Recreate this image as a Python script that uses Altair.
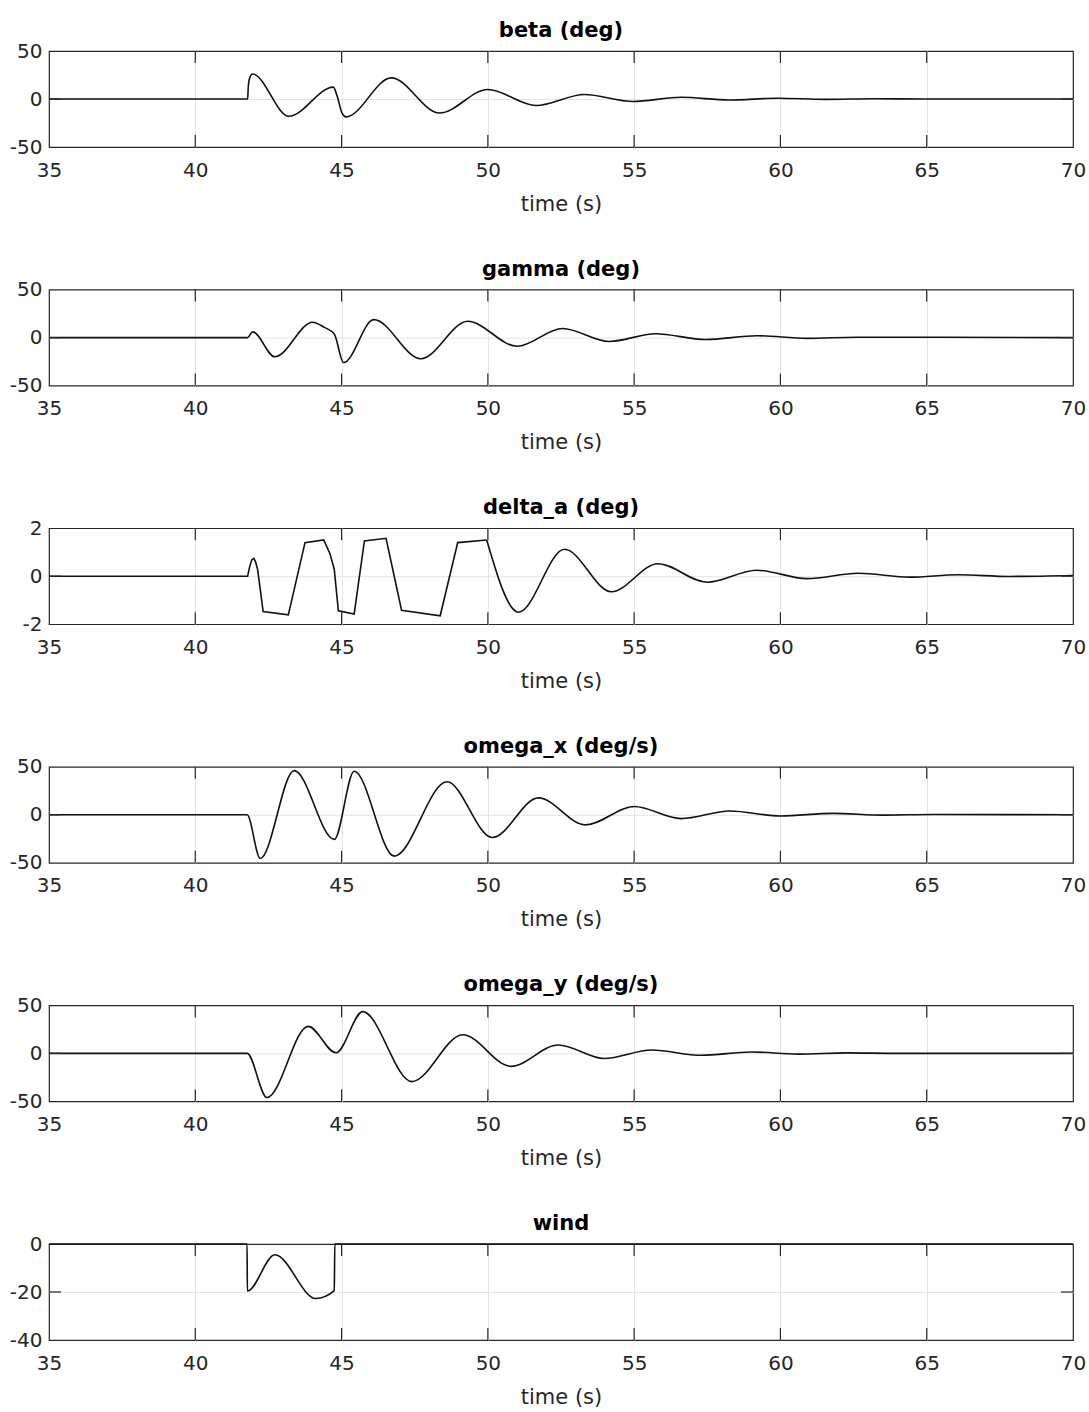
import altair as alt
import pandas as pd

# ---- data ----
T_BETA = [35, 41.79, 41.81, 41.86, 41.96, 43.2, 44.72, 44.85, 45.02, 45.15, 46.7, 48.35, 50.0, 51.65, 53.3, 54.95, 56.6, 58.25, 59.9, 61.55, 63.2, 64.9, 70]
V_BETA = [0, 0, 12, 22, 26, -18, 12.4, 3, -15, -18.6, 22, -14.6, 9.9, -6.8, 4.7, -2.6, 1.8, -1.0, 0.8, -0.4, 0.3, 0, 0]

T_GAMMA = [35, 41.79, 41.96, 42.72, 44.01, 44.41, 44.75, 45.07, 46.10, 47.71, 49.31, 51.0, 52.55, 54.15, 55.72, 57.45, 59.2, 60.9, 62.6, 70]
V_GAMMA = [0, 0, 6, -20, 16, 10.7, 3.7, -26, 18.7, -22, 17, -9, 9.5, -4, 4, -2, 2, -0.8, 0.4, 0]

T_DA_LIN = [35, 41.79, 41.86, 41.93, 42.0, 42.06, 42.13, 42.32, 43.18, 43.75, 44.39, 44.6, 44.75, 44.89, 45.43, 45.78, 46.52, 47.05, 48.37, 48.97, 49.96]
V_DA_LIN = [0, 0, 0.4, 0.68, 0.74, 0.6, 0.28, -1.47, -1.61, 1.40, 1.51, 0.95, 0.29, -1.44, -1.58, 1.47, 1.58, -1.42, -1.65, 1.40, 1.51]
T_DA_SMOOTH = [49.96, 51.05, 52.62, 54.22, 55.81, 57.49, 59.19, 60.9, 62.66, 64.43, 66.07, 67.83, 70]
V_DA_SMOOTH = [1.51, -1.5, 1.12, -0.65, 0.52, -0.25, 0.25, -0.1, 0.12, -0.04, 0.06, -0.01, 0.03]

T_OMX = [35, 41.77, 42.22, 43.38, 44.75, 45.43, 46.8, 48.6, 50.15, 51.73, 53.33, 55.0, 56.6, 58.27, 60.0, 61.8, 63.5, 65.2, 70]
V_OMX = [0, 0, -45.5, 46, -25.6, 45.4, -43, 34.5, -23.7, 17.6, -10.5, 8.6, -4, 4, -1.2, 1.5, -0.3, 0.3, 0]

T_OMY = [35, 41.77, 42.45, 43.86, 44.81, 45.72, 47.4, 49.14, 50.79, 52.41, 53.98, 55.6, 57.3, 59.0, 60.6, 62.3, 64.0, 70]
V_OMY = [0, 0, -46, 28.2, 0.6, 43.5, -29.4, 19.4, -13.5, 8.8, -5.3, 3.5, -2, 1.5, -0.8, 0.5, 0, 0]

T_WIND = [35, 41.77, 41.78, 42.72, 44.12, 44.75, 44.77, 70]
V_WIND = [0, 0, -19.6, -4.5, -22.7, -19.4, 0, 0]

X_TICKS = [35, 40, 45, 50, 55, 60, 65, 70]
X_INNER = [40, 45, 50, 55, 60, 65]

W, H = 1024, 96
TICK = 12
INK = "#262626"
FONT = "DejaVu Sans"


def panel(title, segments, ydom, yvals, yinner):
    xs = alt.Scale(domain=[35, 70], nice=False, zero=False)
    ys = alt.Scale(domain=ydom, nice=False, zero=False)
    xaxis = alt.Axis(values=X_TICKS, title="time (s)", grid=True, ticks=False, domain=False,
                     labelFlush=False, labelOverlap=False, labelPadding=13, titlePadding=13,
                     format="d",
                     gridOpacity={"condition": {"test": "datum.value > 35 && datum.value < 70", "value": 1},
                                  "value": 0})
    yaxis = alt.Axis(values=yvals, title=None, grid=True, ticks=False, domain=False,
                     labelOverlap=False, labelPadding=7, labelExpr="'' + datum.value",
                     gridOpacity={"condition": {"test": f"datum.value > {ydom[0]} && datum.value < {ydom[1]}",
                                                "value": 1},
                                  "value": 0})
    X = lambda: alt.X("t:Q", scale=xs, axis=xaxis)
    Y = lambda: alt.Y("v:Q", scale=ys, axis=yaxis)
    layers = []
    for (t, v, interp) in segments:
        df = pd.DataFrame({"t": t, "v": v})
        layers.append(alt.Chart(df).mark_line(color="#111111", strokeWidth=1.6, interpolate=interp)
                      .encode(x=X(), y=Y()))
    xt = pd.DataFrame({"t": X_INNER})
    yt = pd.DataFrame({"v": yinner})
    top = alt.Chart(xt).mark_rule(color=INK, strokeWidth=1.2).encode(
        x=X(), y=alt.value(0), y2=alt.value(TICK))
    bot = alt.Chart(xt).mark_rule(color=INK, strokeWidth=1.2).encode(
        x=X(), y=alt.value(H - TICK), y2=alt.value(H))
    left = alt.Chart(yt).mark_rule(color=INK, strokeWidth=1.2).encode(
        y=Y(), x=alt.value(0), x2=alt.value(TICK))
    right = alt.Chart(yt).mark_rule(color=INK, strokeWidth=1.2).encode(
        y=Y(), x=alt.value(W - TICK), x2=alt.value(W))
    return alt.layer(*layers, top, bot, left, right).properties(
        width=W, height=H,
        title=alt.TitleParams(title, fontSize=21, fontWeight="bold", font=FONT,
                              color="black", anchor="middle", offset=0))


charts = [
    panel("beta (deg)", [(T_BETA, V_BETA, "monotone")], [-50, 50], [-50, 0, 50], [0]),
    panel("gamma (deg)", [(T_GAMMA, V_GAMMA, "monotone")], [-50, 50], [-50, 0, 50], [0]),
    panel("delta_a (deg)", [(T_DA_LIN, V_DA_LIN, "linear"), (T_DA_SMOOTH, V_DA_SMOOTH, "monotone")],
          [-2, 2], [-2, 0, 2], [0]),
    panel("omega_x (deg/s)", [(T_OMX, V_OMX, "monotone")], [-50, 50], [-50, 0, 50], [0]),
    panel("omega_y (deg/s)", [(T_OMY, V_OMY, "monotone")], [-50, 50], [-50, 0, 50], [0]),
    panel("wind", [(T_WIND, V_WIND, "monotone")], [-40, 0], [-40, -20, 0], [-20]),
]

chart = alt.vconcat(*charts, spacing=42.6).properties(
    padding={"left": 8, "top": 19, "right": 2, "bottom": 2},
    background="white",
).configure_view(
    stroke=INK, strokeWidth=1.2
).configure_axis(
    labelFont=FONT, labelFontSize=20, labelColor=INK,
    titleFont=FONT, titleFontSize=21, titleFontWeight="normal", titleColor=INK,
    gridColor="#e4e4e4", gridWidth=1,
)

chart.save("out.html", embed_options={"renderer": "svg", "actions": False})
